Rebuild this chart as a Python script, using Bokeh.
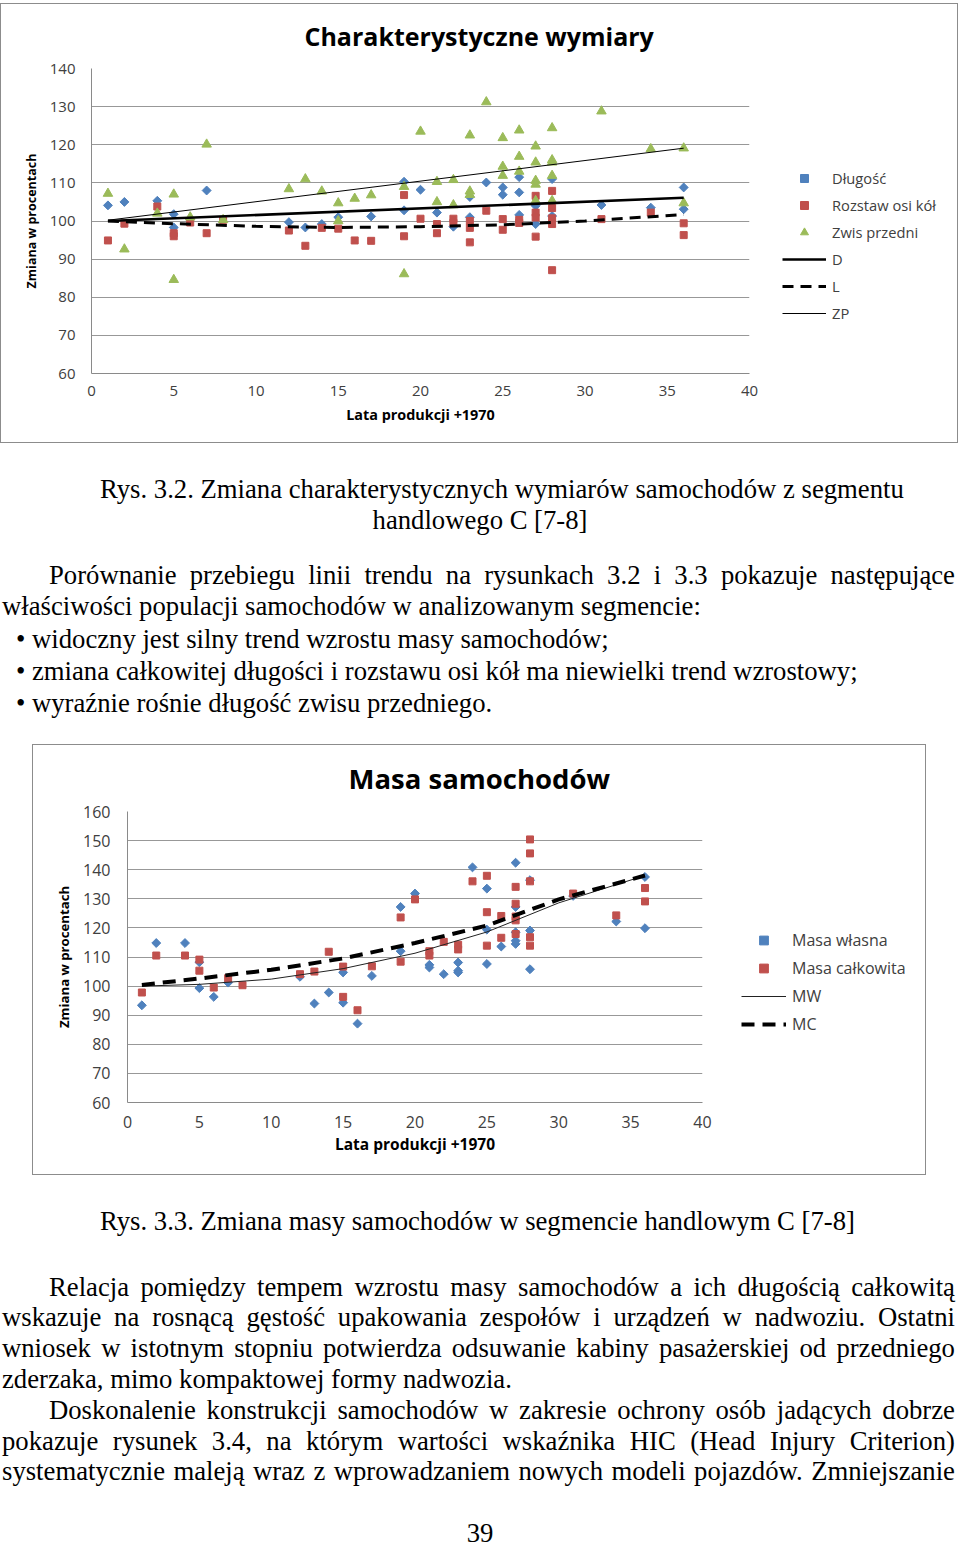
import html as _html
from bokeh.plotting import figure
from bokeh.models import Range1d, FixedTicker, Legend, LegendItem, Div, Spacer
from bokeh.layouts import column, row
from bokeh.embed import file_html
from bokeh.resources import INLINE

# ---------------- data: chart 1 "Charakterystyczne wymiary" ----------------
x_ticks = [0, 5, 10, 15, 20, 25, 30, 35, 40]
y_ticks_1 = [60, 70, 80, 90, 100, 110, 120, 130, 140]

dl_x = [1, 2, 4, 5, 5, 7, 12, 13, 14, 15, 17, 19, 19, 20, 21, 22, 23, 23, 24, 25, 25, 26, 26, 26,
        27, 27, 28, 28, 31, 34, 36, 36]
dl_y = [104.1, 105.0, 105.3, 101.8, 98.3, 108.0, 99.7, 98.3, 99.2, 101.0, 101.2, 110.3, 102.8, 108.2,
        102.2, 98.5, 101.0, 106.3, 110.1, 108.8, 106.9, 111.5, 107.5, 101.6, 104.0, 99.2, 111.0, 101.3,
        104.2, 103.5, 108.8, 103.1]

ro_x = [1, 2, 4, 5, 5, 6, 7, 8, 12, 13, 14, 15, 16, 17, 19, 19, 20, 21, 21, 22, 22, 23, 23, 23, 24,
        25, 25, 26, 26, 27, 27, 27, 27, 28, 28, 28, 28, 28, 31, 34, 36, 36]
ro_y = [94.9, 99.3, 103.8, 96.8, 96.0, 99.6, 96.8, 100.3, 97.5, 93.5, 98.2, 98.0, 94.9, 94.8, 106.8,
        96.0, 100.6, 99.2, 96.8, 100.6, 99.5, 100.0, 98.2, 94.4, 102.7, 100.5, 97.7, 100.3, 99.5, 106.6,
        102.2, 100.9, 95.9, 107.9, 103.4, 100.7, 99.2, 87.1, 100.5, 102.2, 99.4, 96.3]

zw_x = [1, 2, 4, 5, 5, 6, 7, 8, 12, 13, 14, 15, 15, 16, 17, 19, 19, 20, 21, 21, 22, 22, 23, 23, 23,
        24, 25, 25, 25, 26, 26, 26, 27, 27, 27, 27, 27, 28, 28, 28, 28, 28, 31, 34, 36, 36]
zw_y = [107.2, 92.6, 102.0, 107.0, 84.6, 101.0, 120.1, 100.3, 108.4, 111.0, 107.8, 104.7, 100.0, 105.9,
        106.8, 109.0, 86.1, 123.5, 110.3, 105.0, 110.8, 104.2, 122.5, 107.8, 106.9, 131.2, 121.8, 114.3,
        111.9, 123.8, 116.9, 113.0, 119.6, 115.4, 110.6, 109.6, 105.3, 124.4, 116.0, 115.4, 111.9, 105.3,
        128.8, 118.9, 119.1, 104.7]

# trend lines
lin_x = [1, 36]
trend_D = [100.0, 106.1]
trend_ZP = [100.2, 119.1]
curve_x = [1, 5, 10, 15, 20, 25, 30, 36]
trend_L = [100.0, 99.3, 98.6, 98.3, 98.5, 99.0, 100.0, 101.7]

# ---------------- data: chart 2 "Masa samochodów" ----------------
y_ticks_2 = [60, 70, 80, 90, 100, 110, 120, 130, 140, 150, 160]

mw_x = [1, 2, 4, 5, 5, 6, 7, 12, 13, 14, 15, 15, 16, 17, 19, 19, 20, 21, 21, 22, 23, 23, 23, 24, 25,
        25, 25, 26, 27, 27, 27, 27, 27, 28, 28, 28, 31, 34, 36, 36]
mw_y = [93.4, 114.8, 114.8, 108.2, 99.3, 96.3, 101.2, 103.2, 94.0, 97.8, 104.7, 94.3, 87.1, 103.5,
        127.2, 112.0, 131.8, 107.3, 106.4, 104.1, 108.1, 105.3, 104.7, 140.8, 133.5, 119.4, 107.6, 113.6,
        142.4, 127.2, 118.5, 115.6, 114.5, 136.4, 119.1, 105.8, 131.0, 122.2, 137.5, 119.9]

mc_x = [1, 2, 4, 5, 5, 6, 7, 8, 12, 13, 14, 15, 15, 16, 17, 19, 19, 20, 21, 21, 22, 23, 23, 24, 25,
        25, 25, 26, 26, 27, 27, 27, 27, 27, 28, 28, 28, 28, 28, 31, 34, 36, 36]
mc_y = [97.8, 110.5, 110.5, 109.1, 105.3, 99.5, 102.7, 100.3, 104.1, 105.0, 111.8, 106.7, 96.3, 91.7,
        106.8, 123.6, 108.4, 129.8, 112.0, 110.5, 115.2, 114.2, 112.6, 136.0, 137.9, 125.4, 113.9, 124.1,
        116.6, 134.1, 128.3, 123.9, 122.6, 117.9, 150.4, 145.6, 136.0, 116.8, 113.9, 131.8, 124.3, 133.7,
        129.1]

trend2_x = [1, 5, 10, 15, 20, 25, 30, 36]
trend_MW = [100.0, 100.6, 102.4, 106.0, 111.3, 118.6, 128.6, 138.0]
trend_MC = [100.4, 102.6, 105.6, 109.5, 114.8, 120.8, 129.8, 138.0]

# ---------------- texts ----------------
title_1 = "Charakterystyczne wymiary"
title_2 = "Masa samochodów"
y_label = "Zmiana w procentach"
x_label = "Lata produkcji +1970"
legend_1 = ["Długość", "Rozstaw osi kół", "Zwis przedni", "D", "L", "ZP"]
legend_2 = ["Masa własna", "Masa całkowita", "MW", "MC"]

caption_1 = ["Rys. 3.2. Zmiana charakterystycznych wymiarów samochodów z segmentu",
             "handlowego C [7-8]"]
para_1 = ["Porównanie przebiegu linii trendu na rysunkach 3.2 i 3.3 pokazuje następujące",
          "właściwości populacji samochodów w analizowanym segmencie:"]
bullets_1 = ["widoczny jest silny trend wzrostu masy samochodów;",
             "zmiana całkowitej długości i rozstawu osi kół ma niewielki trend wzrostowy;",
             "wyraźnie rośnie długość zwisu przedniego."]
caption_2 = "Rys. 3.3. Zmiana masy samochodów w segmencie handlowym C [7-8]"
para_2 = ["Relacja pomiędzy tempem wzrostu masy samochodów a ich długością całkowitą",
          "wskazuje na rosnącą gęstość upakowania zespołów i urządzeń w nadwoziu. Ostatni",
          "wniosek w istotnym stopniu potwierdza odsuwanie kabiny pasażerskiej od przedniego",
          "zderzaka, mimo kompaktowej formy nadwozia."]
para_3 = ["Doskonalenie konstrukcji samochodów w zakresie ochrony osób jadących dobrze",
          "pokazuje rysunek 3.4, na którym wartości wskaźnika HIC (Head Injury Criterion)",
          "systematycznie maleją wraz z wprowadzaniem nowych modeli pojazdów. Zmniejszanie"]
page_no = "39"

# ---------------- styles ----------------
BLUE, RED, GREEN = "#4F81BD", "#C0504D", "#9BBB59"
FONT = "Open Sans"
TICK_COL = "#404040"
GRID_COL = "#989898"
AXIS_COL = "#8a8a8a"
BORDER = "1px solid #8c8c8c"


def style_axes(p, yticks, tick_size, xlab_size, ylab_size, xstand, ystand, xlab_stand, ylab_stand):
    p.xgrid.grid_line_color = None
    p.ygrid.grid_line_color = GRID_COL
    p.ygrid.grid_line_width = 1
    p.outline_line_color = None
    p.xaxis.ticker = FixedTicker(ticks=x_ticks)
    p.yaxis.ticker = FixedTicker(ticks=yticks)
    for ax in (p.xaxis[0], p.yaxis[0]):
        ax.axis_line_color = AXIS_COL
        ax.major_tick_line_color = None
        ax.minor_tick_line_color = None
        ax.major_tick_in = 0
        ax.major_tick_out = 0
        ax.major_label_text_font = FONT
        ax.major_label_text_font_size = tick_size
        ax.major_label_text_color = TICK_COL
        ax.axis_label_text_font = FONT
        ax.axis_label_text_font_style = "bold"
        ax.axis_label_text_color = "#000000"
    p.xaxis.axis_label_text_font_size = xlab_size
    p.yaxis.axis_label_text_font_size = ylab_size
    p.xaxis.major_label_standoff = xstand
    p.yaxis.major_label_standoff = ystand
    p.xaxis.axis_label_standoff = xlab_stand
    p.yaxis.axis_label_standoff = ylab_stand
    p.xaxis.axis_label = x_label
    p.yaxis.axis_label = y_label


def style_title(p, text, size, offset, standoff):
    p.title.text = text
    p.title.align = "left"
    p.title.offset = offset
    p.title.standoff = standoff
    p.title.vertical_align = "top"
    p.title.text_font = FONT
    p.title.text_font_size = size
    p.title.text_font_style = "bold"
    p.title.text_color = "#000000"


def legend_figure(width, height, names, specs, loc, glyph_width, glyph_height, spacing, font_size):
    """Right part of the chart area that only holds the legend.  Its renderers carry the
    series data, but the view range lies away from the data, so only legend samples show."""
    lf = figure(width=width, height=height, output_backend="svg", toolbar_location=None,
                x_range=Range1d(-100, -90), y_range=Range1d(-100, -90),
                x_axis_location=None, y_axis_location=None,
                min_border_left=0, min_border_right=0, min_border_top=0, min_border_bottom=0,
                styles={"border-top": BORDER, "border-right": BORDER, "border-bottom": BORDER})
    lf.grid.visible = False
    lf.outline_line_color = None
    items = []
    for name, (kind, kw, xs, ys) in zip(names, specs):
        if kind == "scatter":
            r = lf.scatter(xs, ys, **kw)
        else:
            r = lf.line(xs, ys, **kw)
        items.append(LegendItem(label=name, renderers=[r]))
    lg = Legend(items=items, location=loc, glyph_width=glyph_width, glyph_height=glyph_height,
                label_height=glyph_height, label_standoff=6, spacing=spacing, padding=0, margin=0,
                border_line_color=None, background_fill_alpha=0,
                label_text_font=FONT, label_text_font_size=font_size, label_text_color=TICK_COL)
    lf.add_layout(lg)
    return lf


sty_dia = dict(marker="square", angle=0.7854, size=6.3, fill_color=BLUE, line_color=BLUE)
sty_sq = dict(marker="square", size=7, fill_color=RED, line_color=RED)
sty_tri = dict(marker="triangle", size=9.5, fill_color=GREEN, line_color=GREEN)
sty_D = dict(line_color="black", line_width=2.6)
sty_L = dict(line_color="black", line_width=3, line_dash="11 7")
sty_ZP = dict(line_color="black", line_width=1)
sty_MW = dict(line_color="#222222", line_width=1)
sty_MC = dict(line_color="black", line_width=4, line_dash="13 8")

# ---------------- chart 1 ----------------
p1 = figure(width=760, height=440, x_range=Range1d(0, 40), y_range=Range1d(60, 140),
            output_backend="svg", toolbar_location=None,
            min_border_left=90, min_border_right=12, min_border_top=64, min_border_bottom=71,
            styles={"border-top": BORDER, "border-left": BORDER, "border-bottom": BORDER})
style_axes(p1, y_ticks_1, "15px", "14.4px", "12.5px", 12, 16, 6, 7)
style_title(p1, title_1, "25px", 213, 27)

p1.scatter(dl_x, dl_y, **sty_dia)
p1.scatter(ro_x, ro_y, **sty_sq)
p1.scatter(zw_x, zw_y, **sty_tri)
p1.line(lin_x, trend_D, **sty_D)
p1.line(curve_x, trend_L, **sty_L)
p1.line(lin_x, trend_ZP, **sty_ZP)

leg1 = legend_figure(198, 440, legend_1,
                     [("scatter", sty_dia, dl_x, dl_y), ("scatter", sty_sq, ro_x, ro_y),
                      ("scatter", sty_tri, zw_x, zw_y), ("line", sty_D, lin_x, trend_D),
                      ("line", sty_L, curve_x, trend_L), ("line", sty_ZP, lin_x, trend_ZP)],
                     (22, 50), 44, 20, 7, "14.7px")

# ---------------- chart 2 ----------------
p2 = figure(width=681, height=431, x_range=Range1d(0, 40), y_range=Range1d(60, 160),
            output_backend="svg", toolbar_location=None,
            min_border_left=94, min_border_right=12, min_border_top=66, min_border_bottom=74,
            styles={"border-top": BORDER, "border-left": BORDER, "border-bottom": BORDER})
style_axes(p2, y_ticks_2, "16px", "15.5px", "13.2px", 13, 17, 2, 7)
style_title(p2, title_2, "27.5px", 221, 26)

p2.scatter(mw_x, mw_y, **sty_dia)
p2.scatter(mc_x, mc_y, **sty_sq)
p2.line(trend2_x, trend_MW, **sty_MW)
p2.line(trend2_x, trend_MC, **sty_MC)

leg2 = legend_figure(213, 431, legend_2,
                     [("scatter", sty_dia, mw_x, mw_y), ("scatter", sty_sq, mc_x, mc_y),
                      ("line", sty_MW, trend2_x, trend_MW), ("line", sty_MC, trend2_x, trend_MC)],
                     (28, 67), 45, 22, 6, "16px")

# ---------------- text blocks ----------------
TXT = "font-family:'Liberation Serif','Times New Roman',serif;font-size:26.7px;color:#000;"


def plain(text, left, top, width=None, align="left", size=None, lh=31):
    st = f"position:absolute;left:{left}px;top:{top}px;height:{lh}px;line-height:{lh}px;white-space:nowrap;"
    if width is not None:
        st += f"width:{width}px;text-align:{align};"
    if size is not None:
        st += f"font-size:{size}px;"
    return f'<div style="{st}">{_html.escape(text)}</div>'


def justified(text, left, top, width):
    words = "".join(f"<span>{_html.escape(w)}</span>" for w in text.split(" "))
    st = (f"position:absolute;left:{left}px;top:{top}px;width:{width}px;height:31px;line-height:31px;"
          "display:flex;justify-content:space-between;white-space:nowrap;")
    return f'<div style="{st}">{words}</div>'


def block(parts, h):
    return (f'<div style="position:relative;width:960px;height:{h}px;overflow:visible;{TXT}">'
            + "".join(parts) + "</div>")


parts1 = [plain(caption_1[0], 100, 31),
          plain(caption_1[1], 280, 62, 400, "center"),
          justified(para_1[0], 49, 117, 906),
          plain(para_1[1], 2, 148)]
for i, b in enumerate(bullets_1):
    top = 181 + 32 * i
    parts1.append(plain("\u2022", 16, top))
    parts1.append(plain(b, 32, top))
div1 = Div(text=block(parts1, 301), width=960, height=301, margin=0)

parts2 = [plain(caption_2, 100, 31),
          justified(para_2[0], 49, 97, 906),
          justified(para_2[1], 2, 127, 953),
          justified(para_2[2], 2, 158, 953),
          plain(para_2[3], 2, 189),
          justified(para_3[0], 49, 220, 906),
          justified(para_3[1], 2, 251, 953),
          justified(para_3[2], 2, 281, 953),
          plain(page_no, 430, 346, 100, "center", lh=24)]
div2 = Div(text=block(parts2, 370), width=960, height=370, margin=0)

layout = column(Spacer(width=958, height=3), row(p1, leg1), div1,
                row(Spacer(width=32, height=431), p2, leg2), div2)

open("out.html", "w").write(file_html(layout, INLINE))
